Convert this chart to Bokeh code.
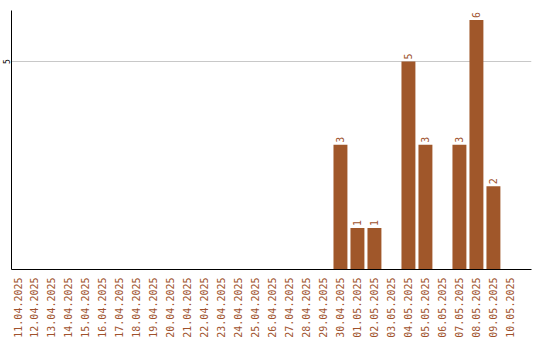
import math
from bokeh.plotting import figure
from bokeh.models import ColumnDataSource, Range1d, FixedTicker
from bokeh.core.properties import value
from bokeh.embed import file_html
from bokeh.resources import INLINE

dates = [
    "11.04.2025", "12.04.2025", "13.04.2025", "14.04.2025", "15.04.2025",
    "16.04.2025", "17.04.2025", "18.04.2025", "19.04.2025", "20.04.2025",
    "21.04.2025", "22.04.2025", "23.04.2025", "24.04.2025", "25.04.2025",
    "26.04.2025", "27.04.2025", "28.04.2025", "29.04.2025", "30.04.2025",
    "01.05.2025", "02.05.2025", "03.05.2025", "04.05.2025", "05.05.2025",
    "06.05.2025", "07.05.2025", "08.05.2025", "09.05.2025", "10.05.2025",
]
counts = [0] * 19 + [3, 1, 1, 0, 5, 3, 0, 3, 6, 2, 0]
y_ticks = [5]

BAR = "#A0572A"
LABEL = "#A0522D"
FONT = "DejaVu Sans Mono"

X0, X1 = -0.353, 30.24
xs = list(range(len(dates)))
src = ColumnDataSource(dict(x=xs, top=counts))
nz = [i for i, c in enumerate(counts) if c > 0]
lab = ColumnDataSource(dict(
    x=[xs[i] for i in nz],
    y=[counts[i] for i in nz],
    t=[str(counts[i]) for i in nz],
))

p = figure(width=540, height=340, output_backend="svg", toolbar_location=None,
           x_range=Range1d(X0, X1), y_range=Range1d(0, 6.226),
           min_border_left=0, min_border_top=10, min_border_right=9,
           min_border_bottom=71)
p.outline_line_color = None
p.background_fill_color = "white"

p.vbar(x="x", top="top", width=0.82, source=src, fill_color=BAR, line_color=None)
p.text(x="x", y="y", text="t", source=lab, angle=math.pi / 2,
       text_align="left", text_baseline="middle", x_offset=0, y_offset=-2,
       text_font=value(FONT), text_font_size="10px", text_color=LABEL)

p.xgrid.grid_line_color = None
p.ygrid.ticker = FixedTicker(ticks=y_ticks)
p.ygrid.grid_line_color = "#c8c8c8"

p.xaxis.ticker = FixedTicker(ticks=xs)
p.xaxis.major_label_overrides = {i: d for i, d in enumerate(dates)}
p.xaxis.major_label_orientation = math.pi / 2
p.xaxis.major_label_text_font = FONT
p.xaxis.major_label_text_font_size = "10px"
p.xaxis.major_label_text_color = LABEL
p.xaxis.major_tick_out = 0
p.xaxis.major_tick_in = 0
p.xaxis.minor_tick_out = 0
p.xaxis.minor_tick_in = 0
p.xaxis.major_label_standoff = 8
p.xaxis.axis_line_color = "black"

p.yaxis.ticker = FixedTicker(ticks=y_ticks)
p.yaxis.major_label_orientation = "vertical"
p.yaxis.major_label_text_font = FONT
p.yaxis.major_label_text_font_size = "8px"
p.yaxis.major_label_text_color = "black"
p.yaxis.major_tick_out = 0
p.yaxis.major_tick_in = 0
p.yaxis.minor_tick_out = 0
p.yaxis.minor_tick_in = 0
p.yaxis.major_label_standoff = 1
p.yaxis.axis_line_color = "black"

open("out.html", "w").write(file_html(p, INLINE))
